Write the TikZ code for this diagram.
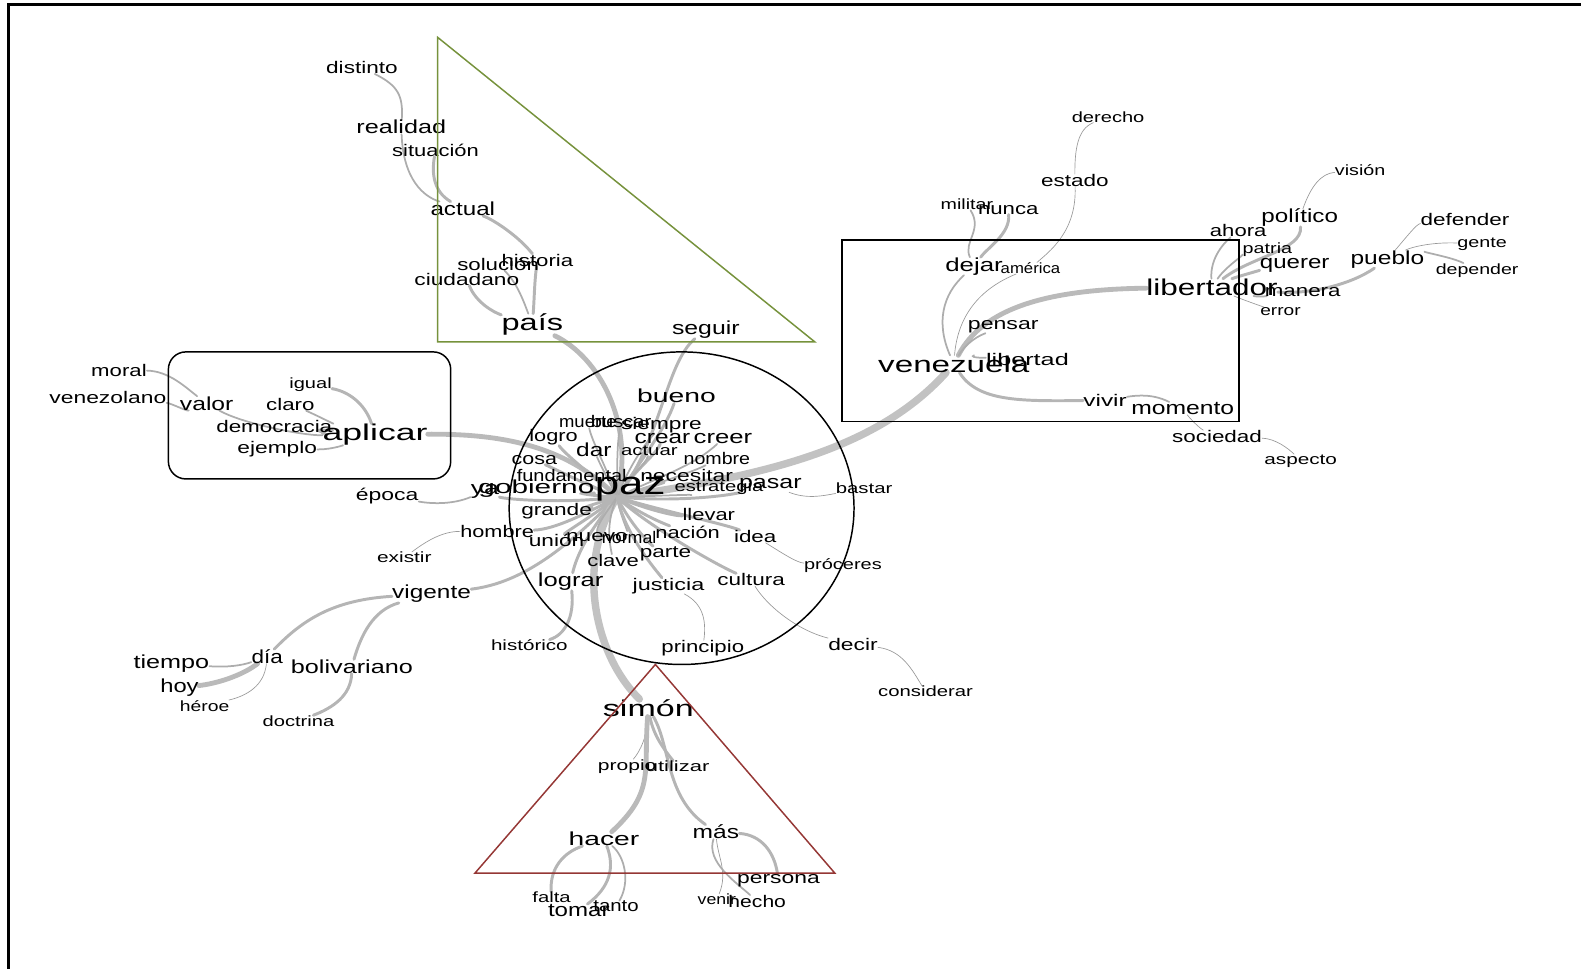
\documentclass[tikz,border=0pt]{standalone}
\usepackage{fontspec}
\setmainfont{Liberation Sans}
\usepackage{graphicx}
\usetikzlibrary{backgrounds}
\newdimen\pxu \pxu=0.75pt
\newcommand{\wn}[5]{\node[#1] (#2) at (#3) {\resizebox{#4\pxu}{\height}{#5}};}
\definecolor{olivetri}{RGB}{118,146,60}
\definecolor{redtri}{RGB}{149,55,53}
\tikzset{
  wbase/.style={inner sep=0pt, text=black},
  wt/.style={wbase, font=\fontsize{11}{12}\selectfont},
  ws/.style={wbase, font=\fontsize{12.5}{13}\selectfont},
  wm/.style={wbase, font=\fontsize{14}{15}\selectfont},
  wl/.style={wbase, font=\fontsize{17}{18}\selectfont},
  wh/.style={wbase, font=\fontsize{24}{25}\selectfont},
  ea/.style={draw=black!40, line width=0.5pt, line cap=round},
  eb/.style={draw=black!32, line width=1.3pt, line cap=round},
  ec/.style={draw=black!29, line width=2.2pt, line cap=round},
  ed/.style={draw=black!27, line width=3.6pt, line cap=round},
  ee/.style={draw=black!24, line width=5.5pt, line cap=round},
  frame/.style={draw=black, line width=2.2pt},
  shapeline/.style={line width=1.1pt},
}
\begin{document}
\begin{tikzpicture}[x=0.75pt, y=-0.75pt]
\useasboundingbox (0,0) rectangle (1568,961);
\draw[frame] (8,961) -- (8,4) -- (1568,4);

% ---------- words ----------
% top branch
\wn{ws}{distinto}{359,67}{71}{distinto}
\wn{wm}{realidad}{398,126}{89}{realidad}
\wn{ws}{situacion}{432,149}{86}{situación}
\wn{wm}{actual}{459,207}{64}{actual}
\wn{ws}{solucion}{494,262}{81}{solución}
\wn{ws}{historia}{533,258}{71}{historia}
\wn{ws}{ciudadano}{463,277}{104}{ciudadano}
\wn{wl}{pais}{528,322}{61}{país}
\wn{wm}{seguir}{700,327}{67}{seguir}
% centre
\wn{wm}{bueno}{671,393}{78}{bueno}
\wn{ws}{muerte}{583,419}{57}{muerte}
\wn{ws}{buscar}{616,418}{60}{buscar}
\wn{ws}{siempre}{656,422}{80}{siempre}
\wn{ws}{logro}{549,434}{48}{logro}
\wn{wm}{crear}{657,435}{55}{crear}
\wn{wm}{creer}{717,435}{58}{creer}
\wn{wm}{dar}{589,446}{35}{dar}
\wn{wt}{actuar}{644,447}{56}{actuar}
\wn{ws}{cosa}{530,456}{45}{cosa}
\wn{ws}{nombre}{711,455}{66}{nombre}
\wn{ws}{fundamental}{567,472}{109}{fundamental}
\wn{ws}{necesitar}{681,472}{92}{necesitar}
\wn{wm}{ya}{481,487}{28}{ya}
\wn{wm}{gobierno}{532,485}{115}{gobierno}
\wn{wh}{paz}{625,485}{70}{paz}
\wn{wt}{estrategia}{713,484}{88}{estrategia}
\wn{wm}{pasar}{764,481}{62}{pasar}
\wn{wt}{bastar}{857,484}{56}{bastar}
\wn{ws}{grande}{552,507}{70}{grande}
\wn{ws}{llevar}{703,510}{52}{llevar}
\wn{ws}{hombre}{493,527}{73}{hombre}
\wn{ws}{union}{552,536}{55}{unión}
\wn{ws}{nuevo}{592,533}{61}{nuevo}
\wn{ws}{normal}{624,533}{54}{normal}
\wn{ws}{nacion}{682,528}{64}{nación}
\wn{ws}{idea}{749,532}{42}{idea}
\wn{wt}{existir}{401,553}{54}{existir}
\wn{ws}{clave}{608,556}{51}{clave}
\wn{ws}{parte}{660,549}{51}{parte}
\wn{wt}{proceres}{836,561}{77}{próceres}
\wn{wm}{lograr}{566,577}{65}{lograr}
\wn{ws}{justicia}{663,581}{71}{justicia}
\wn{ws}{cultura}{745,575}{67}{cultura}
\wn{wm}{vigente}{428,589}{78}{vigente}
\wn{ws}{epoca}{384,492}{62}{época}
\wn{wt}{historico}{525,640}{76}{histórico}
\wn{ws}{principio}{697,643}{82}{principio}
\wn{ws}{decir}{846,639}{49}{decir}
\wn{wt}{considerar}{918,686}{94}{considerar}
% lower left
\wn{wm}{tiempo}{170,658}{75}{tiempo}
\wn{wm}{dia}{265,651}{31}{día}
\wn{wm}{bolivariano}{349,661}{121}{bolivariano}
\wn{wm}{hoy}{178,682}{38}{hoy}
\wn{wt}{heroe}{203,700}{49}{héroe}
\wn{wt}{doctrina}{296,715}{71}{doctrina}
% aplicar box
\wn{ws}{moral}{118,367}{55}{moral}
\wn{ws}{venezolano}{107,394}{116}{venezolano}
\wn{wm}{valor}{205,400}{53}{valor}
\wn{wt}{igual}{308,382}{42}{igual}
\wn{ws}{claro}{288,401}{48}{claro}
\wn{ws}{democracia}{272,423}{115}{democracia}
\wn{wl}{aplicar}{372,431}{104}{aplicar}
\wn{ws}{ejemplo}{275,445}{79}{ejemplo}
% bottom triangle
\wn{wl}{simon}{643,702}{90}{simón}
\wn{wt}{propio}{622,760}{58}{propio}
\wn{wt}{utilizar}{672,760}{63}{utilizar}
\wn{wm}{hacer}{599,832}{70}{hacer}
\wn{wm}{mas}{710,825}{46}{más}
\wn{ws}{persona}{772,873}{82}{persona}
\wn{wt}{falta}{547,890}{38}{falta}
\wn{wm}{tomar}{574,903}{61}{tomar}
\wn{ws}{tanto}{611,899}{45}{tanto}
\wn{wt}{venir}{711,892}{38}{venir}
\wn{ws}{hecho}{751,894}{57}{hecho}
% right
\wn{wt}{derecho}{1099,116}{72}{derecho}
\wn{ws}{estado}{1066,179}{67}{estado}
\wn{wt}{militar}{959,203}{52}{militar}
\wn{ws}{nunca}{1000,208}{60}{nunca}
\wn{wm}{dejar}{966,264}{57}{dejar}
\wn{wt}{america}{1022,266}{59}{américa}
\wn{ws}{pensar}{995,324}{70}{pensar}
\wn{wl}{venezuela}{946,361}{150}{venezuela}
\wn{ws}{libertad}{1019,357}{82}{libertad}
\wn{ws}{vivir}{1096,397}{43}{vivir}
\wn{wm}{momento}{1173,405}{102}{momento}
\wn{ws}{sociedad}{1207,433}{89}{sociedad}
\wn{wt}{aspecto}{1290,457}{72}{aspecto}
\wn{wl}{libertador}{1202,285}{130}{libertador}
\wn{ws}{manera}{1292,290}{75}{manera}
\wn{wt}{error}{1270,309}{40}{error}
\wn{ws}{ahora}{1228,229}{56}{ahora}
\wn{wt}{patria}{1257,248}{49}{patria}
\wn{wm}{querer}{1284,263}{69}{querer}
\wn{wm}{politico}{1289,216}{76}{político}
\wn{wt}{vision}{1349,169}{50}{visión}
\wn{wm}{pueblo}{1376,257}{73}{pueblo}
\wn{ws}{defender}{1453,218}{88}{defender}
\wn{wt}{gente}{1470,242}{49}{gente}
\wn{wt}{depender}{1465,268}{82}{depender}

\coordinate (hub) at (612,493);

% ---------- outlines ----------
\draw[shapeline, draw=olivetri] (434,37) -- (434,339) -- (808,339) -- cycle;
\draw[shapeline, draw=redtri] (650,659) -- (471,866) -- (828,866) -- cycle;
\draw[shapeline] (676,504) ellipse [x radius=171, y radius=155];
\draw[shapeline, rounded corners=13pt] (167,349) rectangle (447,475);
\draw[shapeline] (835,238) rectangle (1229,418);

% ---------- connectors ----------
\begin{scope}[on background layer]
% top
\draw[ed] (hub) .. controls (630,420) and (595,355) .. (pais);
\draw[ec] (pais) .. controls (490,310) and (472,300) .. (ciudadano);
\draw[eb] (pais) .. controls (518,295) and (512,280) .. (solucion);
\draw[ec] (pais) .. controls (530,295) and (530,280) .. (historia);
\draw[ec] (historia) .. controls (515,235) and (490,218) .. (actual);
\draw[ec] (actual) .. controls (430,190) and (428,172) .. (situacion);
\draw[eb] (actual) .. controls (420,195) and (400,178) .. (realidad);
\draw[eb] (realidad) .. controls (400,95) and (395,85) .. (distinto);
\draw[ec] (hub) .. controls (655,440) and (660,360) .. (seguir);
\draw[ec] (hub) .. controls (640,450) and (660,425) .. (bueno);
% venezuela
\draw[ee] (hub) .. controls (760,472) and (870,445) .. (venezuela);
\draw[ed] (venezuela) .. controls (975,305) and (1040,287) .. (libertador);
\draw[eb] (venezuela) .. controls (928,320) and (935,292) .. (dejar);
\draw[eb] (dejar) .. controls (955,240) and (975,228) .. (militar);
\draw[ec] (dejar) .. controls (980,245) and (1002,232) .. (nunca);
\draw[ea] (venezuela) .. controls (950,310) and (975,285) .. (america);
\draw[ea] (america) .. controls (1040,250) and (1068,230) .. (estado);
\draw[ea] (estado) .. controls (1066,150) and (1068,128) .. (derecho);
\draw[eb] (venezuela) .. controls (955,345) and (965,335) .. (pensar);
\draw[eb] (venezuela) .. controls (960,355) and (980,355) .. (libertad);
\draw[ec] (venezuela) .. controls (970,398) and (1010,398) .. (vivir);
\draw[eb] (vivir) .. controls (1140,390) and (1152,395) .. (momento);
\draw[ea] (momento) .. controls (1180,415) and (1190,425) .. (sociedad);
\draw[ea] (sociedad) .. controls (1265,435) and (1278,445) .. (aspecto);
\draw[eb] (libertador) .. controls (1200,255) and (1215,240) .. (ahora);
\draw[eb] (libertador) .. controls (1215,265) and (1235,252) .. (patria);
\draw[ec] (libertador) .. controls (1225,275) and (1250,268) .. (querer);
\draw[ec] (libertador) .. controls (1240,255) and (1292,248) .. (politico);
\draw[ea] (politico) .. controls (1300,185) and (1310,172) .. (vision);
\draw[eb] (libertador) .. controls (1250,295) and (1262,293) .. (manera);
\draw[ea] (libertador) .. controls (1240,300) and (1255,305) .. (error);
\draw[ec] (libertador) .. controls (1300,292) and (1340,282) .. (pueblo);
\draw[ea] (pueblo) .. controls (1395,235) and (1405,222) .. (defender);
\draw[ea] (pueblo) .. controls (1400,245) and (1420,240) .. (gente);
\draw[eb] (pueblo) .. controls (1410,250) and (1440,255) .. (depender);
% aplicar
\draw[ed] (hub) .. controls (565,445) and (505,430) .. (aplicar);
\draw[ec] (aplicar) .. controls (362,400) and (345,388) .. (igual);
\draw[eb] (aplicar) .. controls (330,420) and (310,410) .. (claro);
\draw[ec] (aplicar) .. controls (330,430) and (300,425) .. (democracia);
\draw[eb] (aplicar) .. controls (345,440) and (330,446) .. (ejemplo);
\draw[eb] (aplicar) .. controls (300,432) and (240,420) .. (valor);
\draw[eb] (valor) .. controls (185,385) and (168,368) .. (moral);
\draw[eb] (valor) .. controls (185,408) and (170,400) .. (venezolano);
% left
\draw[ec] (hub) .. controls (585,492) and (560,487) .. (gobierno);
\draw[ec] (hub) .. controls (560,500) and (500,495) .. (ya);
\draw[eb] (ya) .. controls (450,500) and (430,500) .. (epoca);
\draw[ec] (hub) .. controls (580,510) and (550,525) .. (hombre);
\draw[ea] (hombre) .. controls (440,527) and (425,535) .. (existir);
\draw[ec] (hub) .. controls (565,540) and (520,578) .. (vigente);
\draw[ec] (vigente) .. controls (330,595) and (300,615) .. (dia);
\draw[eb] (dia) .. controls (240,660) and (225,662) .. (tiempo);
\draw[ed] (dia) .. controls (240,670) and (215,678) .. (hoy);
\draw[ea] (dia) .. controls (262,680) and (245,690) .. (heroe);
\draw[ec] (vigente) .. controls (370,605) and (358,630) .. (bolivariano);
\draw[ec] (bolivariano) .. controls (348,690) and (330,702) .. (doctrina);
% down
\draw[ec] (hub) .. controls (585,525) and (572,550) .. (lograr);
\draw[ec] (lograr) .. controls (570,612) and (560,630) .. (historico);
\draw[ee] (hub) .. controls (570,560) and (590,650) .. (simon);
\draw[ea] (simon) .. controls (642,730) and (635,745) .. (propio);
\draw[ec] (simon) .. controls (648,730) and (660,745) .. (utilizar);
\draw[ed] (simon) .. controls (638,765) and (650,785) .. (hacer);
\draw[ec] (simon) .. controls (665,740) and (660,790) .. (mas);
\draw[ec] (hacer) .. controls (560,845) and (545,860) .. (falta);
\draw[ec] (hacer) .. controls (610,860) and (605,880) .. (tomar);
\draw[eb] (hacer) .. controls (620,850) and (625,875) .. (tanto);
\draw[ec] (mas) .. controls (755,828) and (768,845) .. (persona);
\draw[ea] (mas) .. controls (712,850) and (722,865) .. (venir);
\draw[eb] (mas) .. controls (700,855) and (730,875) .. (hecho);
% spokes
\draw[eb] (hub) .. controls (600,460) and (588,440) .. (muerte);
\draw[eb] (hub) .. controls (612,460) and (612,440) .. (buscar);
\draw[eb] (hub) .. controls (625,460) and (640,440) .. (siempre);
\draw[ec] (hub) .. controls (585,470) and (560,450) .. (logro);
\draw[ec] (hub) .. controls (630,465) and (650,452) .. (crear);
\draw[eb] (hub) .. controls (660,470) and (688,462) .. (creer);
\draw[eb] (hub) .. controls (600,470) and (595,460) .. (dar);
\draw[eb] (hub) .. controls (625,470) and (640,462) .. (actuar);
\draw[ec] (hub) .. controls (580,480) and (550,465) .. (cosa);
\draw[eb] (hub) .. controls (650,480) and (690,467) .. (nombre);
\draw[ec] (hub) .. controls (590,485) and (580,478) .. (fundamental);
\draw[ec] (hub) .. controls (640,485) and (660,478) .. (necesitar);
\draw[eb] (hub) .. controls (650,492) and (690,490) .. (estrategia);
\draw[ec] (hub) .. controls (670,498) and (720,492) .. (pasar);
\draw[ea] (pasar) .. controls (800,495) and (815,492) .. (bastar);
\draw[ec] (hub) .. controls (590,500) and (570,505) .. (grande);
\draw[ec] (hub) .. controls (640,505) and (670,512) .. (llevar);
\draw[ec] (hub) .. controls (590,510) and (565,525) .. (union);
\draw[eb] (hub) .. controls (600,510) and (592,520) .. (nuevo);
\draw[eb] (hub) .. controls (615,510) and (620,520) .. (normal);
\draw[ec] (hub) .. controls (635,510) and (660,520) .. (nacion);
\draw[ec] (hub) .. controls (650,505) and (720,520) .. (idea);
\draw[ea] (idea) .. controls (775,548) and (790,558) .. (proceres);
\draw[eb] (hub) .. controls (600,520) and (605,540) .. (clave);
\draw[ec] (hub) .. controls (625,520) and (645,540) .. (parte);
\draw[ec] (hub) .. controls (620,530) and (650,565) .. (justicia);
\draw[ea] (justicia) .. controls (700,600) and (700,620) .. (principio);
\draw[ec] (hub) .. controls (640,520) and (710,560) .. (cultura);
\draw[ea] (cultura) .. controls (760,600) and (790,625) .. (decir);
\draw[ea] (decir) .. controls (895,645) and (905,665) .. (considerar);
\end{scope}
\end{tikzpicture}
\end{document}
